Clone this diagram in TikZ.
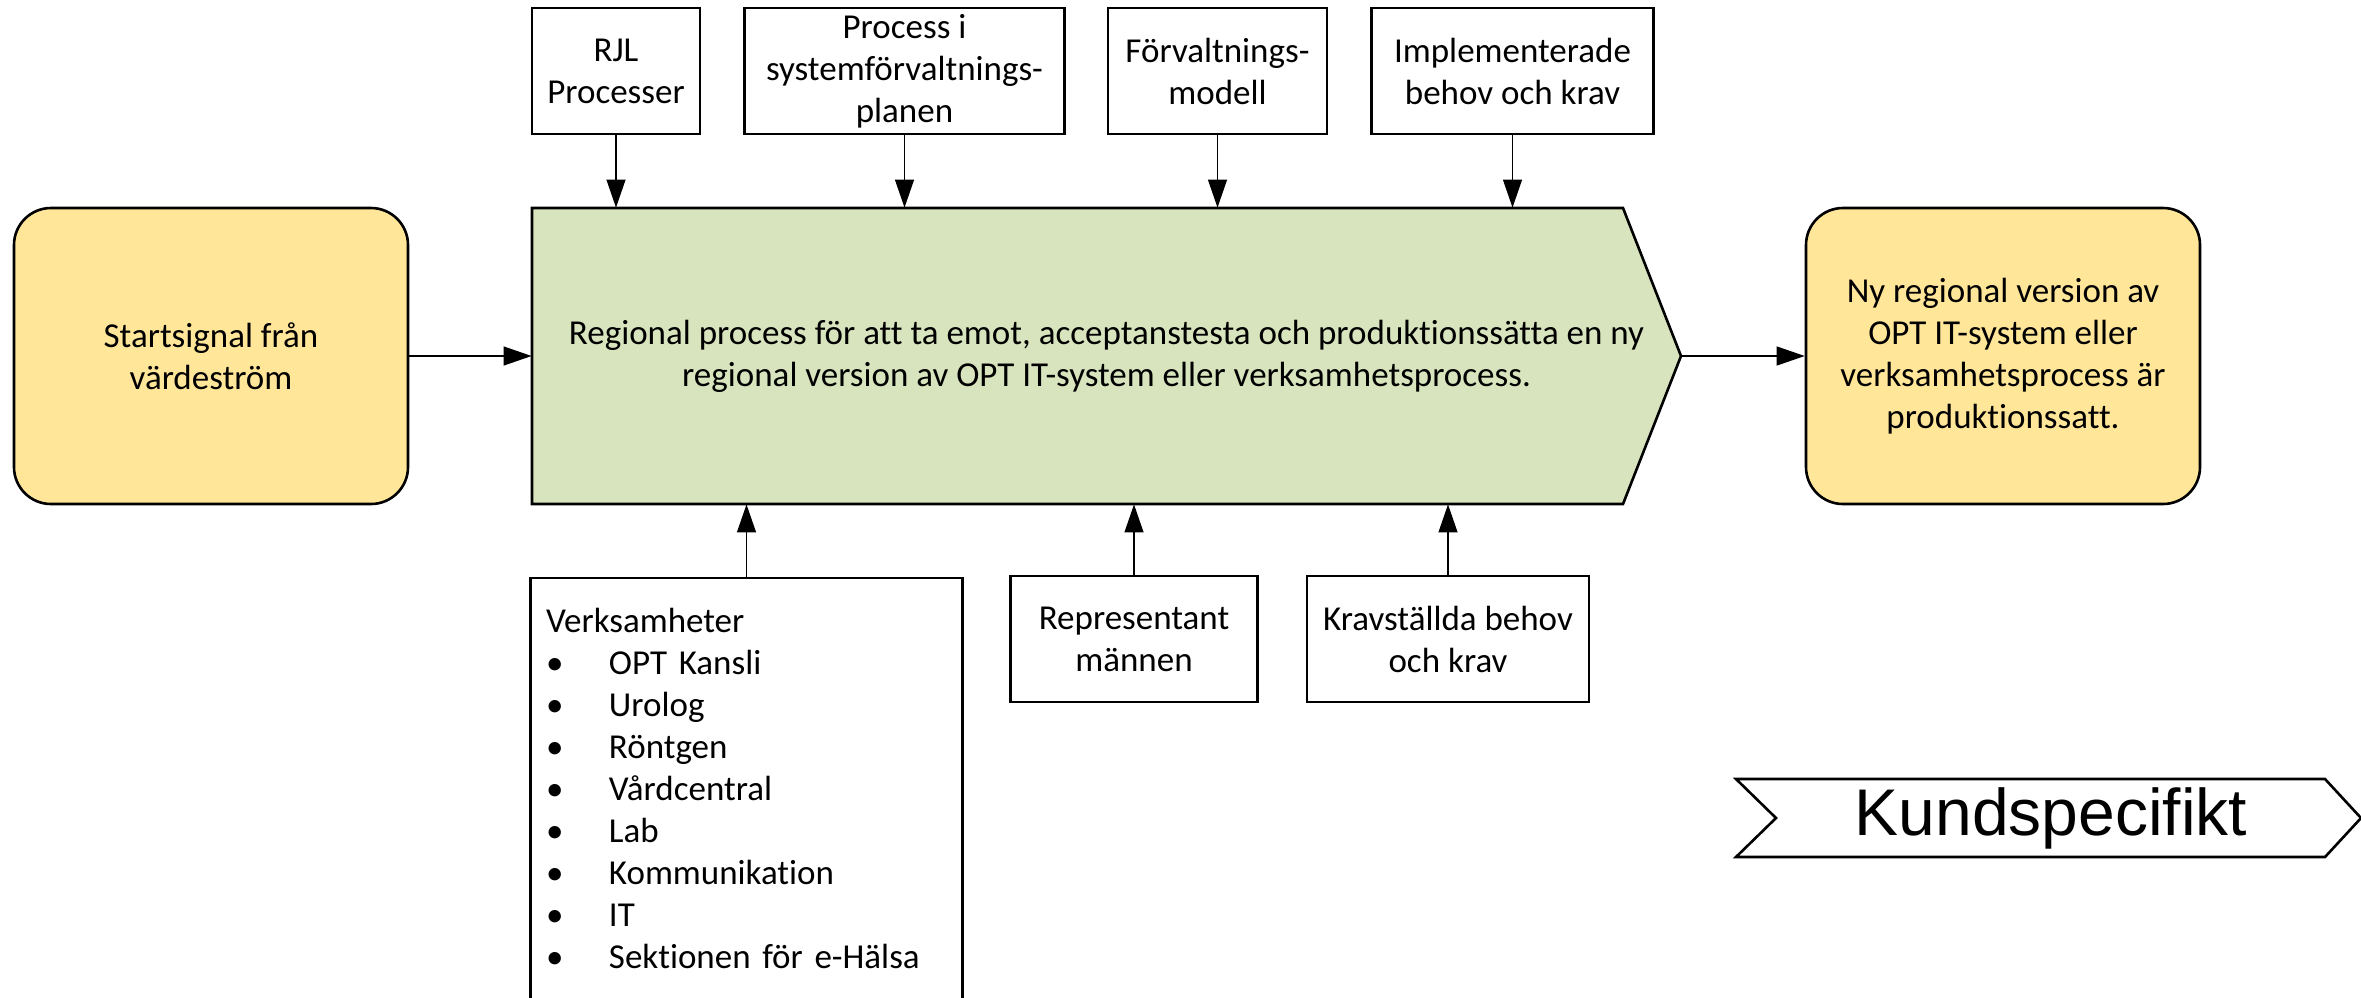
\documentclass[tikz,border=0pt]{standalone}
\usepackage{fontspec}
\setmainfont{Carlito}[Ligatures=NoCommon]
\newfontfamily\arialfont{Liberation Sans}
\usepackage{xcolor}
\usetikzlibrary{arrows.meta}
\definecolor{gul}{HTML}{FFE699}
\definecolor{gron}{HTML}{D7E4BD}
\newcommand{\pkt}{\makebox[31.5pt][l]{\textbullet}}

\begin{document}
\begin{tikzpicture}[auto, x=50pt, y=-50pt,
    txt/.style={font=\fontsize{17.5}{21}\selectfont, align=center},
    box/.style={txt, draw, line width=1.3pt, minimum height=63pt, inner sep=2pt},
    rund/.style={box, fill=gul, rounded corners=18.5pt, minimum width=197pt, minimum height=148pt},
    pil/.style={-{Triangle[length=14pt, width=9.5pt]}, line width=0.6pt}]
    \useasboundingbox (0, 0) rectangle (23.61, 9.97);
    \draw [line width=1.3pt, fill=gron] (5.32, 2.08) -- (16.23, 2.08) -- (16.81, 3.56) -- (16.23, 5.04) -- (5.32, 5.04) -- cycle;
    \draw [line width=1.3pt] (17.36, 7.79) -- (23.25, 7.79) -- (23.61, 8.18) -- (23.25, 8.57) -- (17.36, 8.57) -- (17.76, 8.18) -- cycle;
    \node (r) at (6.16, 0.71) [box, minimum width=84pt] {RJL\\Processer};
    \node (p) at (9.045, 0.71) [box, minimum width=160pt] {Process i\\systemförvaltnings-\\planen};
    \node (f) at (12.175, 0.71) [box, minimum width=109.5pt] {Förvaltnings-\\modell};
    \node (i) at (15.125, 0.71) [box, minimum width=141pt] {Implementerade\\behov och krav};
    \node (m) at (11.065, 3.56) [txt, minimum width=574.5pt, minimum height=148pt, inner sep=0pt] {Regional process för att ta emot, acceptanstesta och produktionssätta en ny\\regional version av OPT IT-system eller verksamhetsprocess.};
    \node (s) at (2.11, 3.56) [rund] {Startsignal från\\värdeström};
    \node (n) at (20.03, 3.56) [rund] {Ny regional version av\\OPT IT-system eller\\verksamhetsprocess är\\produktionssatt.};
    \node (v) at (7.465, 5.78) [box, draw=none, anchor=north, align=left, text width=200.5pt, inner xsep=7pt, minimum height=209pt] {Verksamheter\\
      \pkt OPT Kansli\\
      \pkt Urolog\\
      \pkt Röntgen\\
      \pkt Vårdcentral\\
      \pkt Lab\\
      \pkt Kommunikation\\
      \pkt IT\\
      \pkt Sektionen för e-Hälsa};
    \draw [line width=1.3pt] ([yshift=-6pt]v.south west) -- (v.north west) -- (v.north east) -- ([yshift=-6pt]v.south east);
    \node (a) at (11.34, 6.39) [box, minimum width=123.5pt] {Representant\\männen};
    \node (k) at (14.48, 6.39) [box, minimum width=141pt] {Kravställda behov\\och krav};
    \node (u) at (20.51, 8.18) [font=\arialfont\fontsize{33}{40}\selectfont] {Kundspecifikt};
    \draw [pil] (r) to (r |- m.north);
    \draw [pil] (p) to (p |- m.north);
    \draw [pil] (f) to (f |- m.north);
    \draw [pil] (i) to (i |- m.north);
    \draw [pil] (s) to (m);
    \draw [pil] (m) to (n);
    \draw [pil] (v) to (v |- m.south);
    \draw [pil] (a) to (a |- m.south);
    \draw [pil] (k) to (k |- m.south);
\end{tikzpicture}
\end{document}
